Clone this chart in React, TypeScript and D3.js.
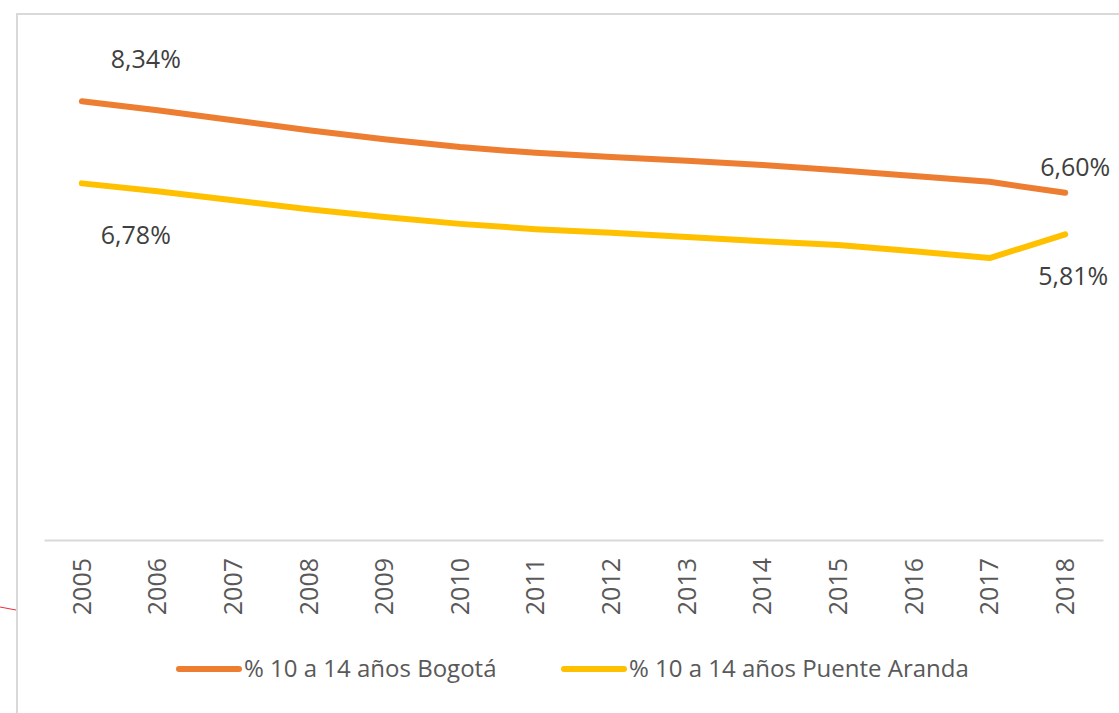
import { useEffect, useRef } from "react";
import * as d3 from "d3";

const years = ["2005", "2006", "2007", "2008", "2009", "2010", "2011", "2012", "2013", "2014", "2015", "2016", "2017", "2018"];
const bogota = [8.34, 8.17, 7.98, 7.79, 7.62, 7.47, 7.36, 7.28, 7.21, 7.13, 7.03, 6.92, 6.81, 6.6];
const puenteAranda = [6.78, 6.63, 6.46, 6.29, 6.14, 6.01, 5.91, 5.84, 5.76, 5.68, 5.61, 5.49, 5.36, 5.81];
const seriesNames = ["% 10 a 14 años Bogotá", "% 10 a 14 años Puente Aranda"];
const colors = ["#ED7D31", "#FFC000"];

const W = 1119;
const H = 713;
const font = "'Open Sans', sans-serif";

export default function App() {
  const ref = useRef<SVGSVGElement | null>(null);

  useEffect(() => {
    const svg = d3.select(ref.current);
    svg.selectAll("*").remove();

    // chart frame
    svg
      .append("rect")
      .attr("x", 17)
      .attr("y", 14)
      .attr("width", W + 20)
      .attr("height", H + 20)
      .attr("fill", "#fff")
      .attr("stroke", "#d9d9d9")
      .attr("stroke-width", 2);

    // stray red line on the left
    svg
      .append("line")
      .attr("x1", 0)
      .attr("y1", 607)
      .attr("x2", 16)
      .attr("y2", 610)
      .attr("stroke", "#e8303a")
      .attr("stroke-width", 1);

    const x = d3.scaleBand().domain(years).range([44, 1103]);
    const y = d3.scaleLinear().domain([0, 10]).range([540, 14]);
    const cx = (d: string) => (x(d) ?? 0) + x.bandwidth() / 2;

    // x axis
    const ax = svg
      .append("g")
      .attr("transform", "translate(0,540)")
      .call(d3.axisBottom(x).tickSize(0).tickPadding(0));
    ax.select(".domain").attr("stroke", "#d9d9d9").attr("stroke-width", 2);
    ax.selectAll("text")
      .attr("transform", "rotate(-90)")
      .attr("text-anchor", "end")
      .attr("x", -18)
      .attr("y", 0)
      .attr("dy", "0.35em")
      .attr("font-family", font)
      .attr("font-size", 25)
      .attr("fill", "#595959");

    const line = d3
      .line<number>()
      .x((_, i) => cx(years[i]))
      .y((d) => y(d));

    [bogota, puenteAranda].forEach((s, k) => {
      svg
        .append("path")
        .datum(s)
        .attr("d", line)
        .attr("fill", "none")
        .attr("stroke", colors[k])
        .attr("stroke-width", 6)
        .attr("stroke-linecap", "round")
        .attr("stroke-linejoin", "round");
    });

    const fmt = (v: number) => v.toFixed(2).replace(".", ",") + "%";
    const last = years.length - 1;
    const labels = [
      { v: bogota[0], i: 0, dx: 64, dy: -33 },
      { v: bogota[last], i: last, dx: 10, dy: -17 },
      { v: puenteAranda[0], i: 0, dx: 54, dy: 61 },
      { v: puenteAranda[last], i: last, dx: 8, dy: 51 },
    ];
    svg
      .append("g")
      .selectAll("text")
      .data(labels)
      .join("text")
      .attr("x", (d) => cx(years[d.i]) + d.dx)
      .attr("y", (d) => y(d.v) + d.dy)
      .attr("text-anchor", "middle")
      .attr("font-family", font)
      .attr("font-size", 25)
      .attr("fill", "#404040")
      .text((d) => fmt(d.v));

    // legend
    const legendX = [176, 561];
    const lg = svg
      .append("g")
      .selectAll("g")
      .data(seriesNames)
      .join("g")
      .attr("transform", (_, i) => `translate(${legendX[i]},669)`);
    lg.append("line")
      .attr("x1", 3)
      .attr("x2", 63)
      .attr("stroke", (_, i) => colors[i])
      .attr("stroke-width", 6)
      .attr("stroke-linecap", "round");
    lg.append("text")
      .attr("x", 68)
      .attr("dy", "0.35em")
      .attr("font-family", font)
      .attr("font-size", 24)
      .attr("fill", "#595959")
      .text((d) => d);
  }, []);

  return (
    <svg
      ref={ref}
      width={W}
      height={H}
      style={{ position: "absolute", left: 0, top: 0, display: "block" }}
    />
  );
}
